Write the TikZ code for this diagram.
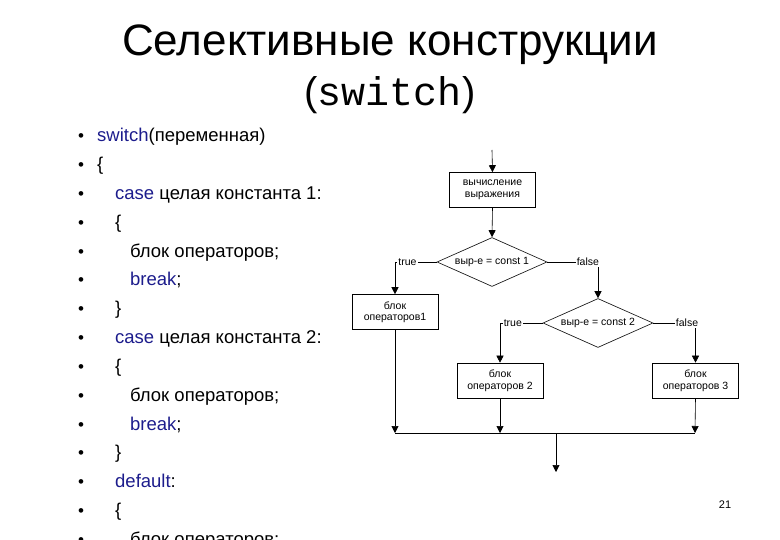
\documentclass[tikz,border=0pt]{standalone}
\usepackage{fontspec}
\setmainfont{Liberation Sans}
\setmonofont{Liberation Mono}
\usetikzlibrary{arrows.meta,shapes.geometric}
\definecolor{kw}{HTML}{1C1C8C}
\begin{document}
\begin{tikzpicture}[x=1pt,y=-1pt,
  box/.style={draw,semithick,minimum width=86pt,minimum height=35pt,align=center,font=\fontsize{10.5}{11.5}\selectfont,inner sep=1pt},
  dia/.style={draw,semithick,diamond,aspect=2.2,minimum width=110pt,minimum height=49pt,inner sep=0pt,font=\fontsize{10.5}{11.5}\selectfont},
  lbl/.style={fill=white,inner sep=1pt,font=\fontsize{10.5}{11.5}\selectfont},
  ar/.style={semithick,-{Triangle[length=7pt,width=7pt]}},
  ln/.style={semithick},
  li/.style={anchor=base west,inner xsep=0pt,font=\fontsize{18.5}{20}\selectfont},
  bul/.style={anchor=base,font=\fontsize{17}{20}\selectfont}]
\useasboundingbox (0,0) rectangle (780,540);
\node[font=\fontsize{44}{46}\selectfont] (t1) at (390,45) {Селективные конструкции};
\node[font=\fontsize{40}{46}\selectfont] (t2) at (390,95) {(\texttt{switch})};
\node[font=\fontsize{11}{12}\selectfont] (pg) at (725,505) {21};
% list
\foreach \i/\ind/\txt in {0/97/{\textcolor{kw}{switch}(переменная)},1/97/\{,2/115/{\textcolor{kw}{case} целая константа 1:},3/115/\{,4/130/{блок операторов;},5/130/{\textcolor{kw}{break};},6/115/\},7/115/{\textcolor{kw}{case} целая константа 2:},8/115/\{,9/130/{блок операторов;},10/130/{\textcolor{kw}{break};},11/115/\},12/115/{\textcolor{kw}{default}:},13/115/\{,14/130/{блок операторов;}}{
  \node[bul] (b\i) at (81,142+28.8*\i) {•};
  \node[li] (l\i) at (\ind,142+28.8*\i) {\txt};
}
% flowchart
\coordinate (in) at (492,150);
\node[box] (calc) at (492.5,190) {вычисление\\выражения};
\node[dia] (d1) at (492,262) {выр-е = const 1};
\node[box] (p1) at (395,312) {блок\\операторов1};
\node[dia] (d2) at (598,323) {выр-е = const 2};
\node[box] (p2) at (500,380.5) {блок\\операторов 2};
\node[box] (p3) at (695.5,380.5) {блок\\операторов 3};
\coordinate (m1) at (395,433);
\coordinate (m2) at (500,433);
\coordinate (m3) at (695,433);
\coordinate (mo) at (556,433);
\coordinate (out) at (556,472);
\draw[ar] (in) -- (calc.north);
\draw[ar] (calc.south) -- (d1.north);
\draw[ar] (d1.west) -| node[lbl,pos=0.35]{true} (p1.north);
\draw[ar] (d1.east) -| node[lbl,pos=0.4]{false} (d2.north);
\draw[ar] (d2.west) -| node[lbl,pos=0.35]{true} (p2.north);
\draw[ar] (d2.east) -| node[lbl,pos=0.4]{false} (p3.north);
\draw[ar] (p1.south) -- (m1);
\draw[ar] (p2.south) -- (m2);
\draw[ar] (p3.south) -- (m3);
\draw[ln] (m1) -- (m3);
\draw[ar] (mo) -- (out);
\end{tikzpicture}
\end{document}
